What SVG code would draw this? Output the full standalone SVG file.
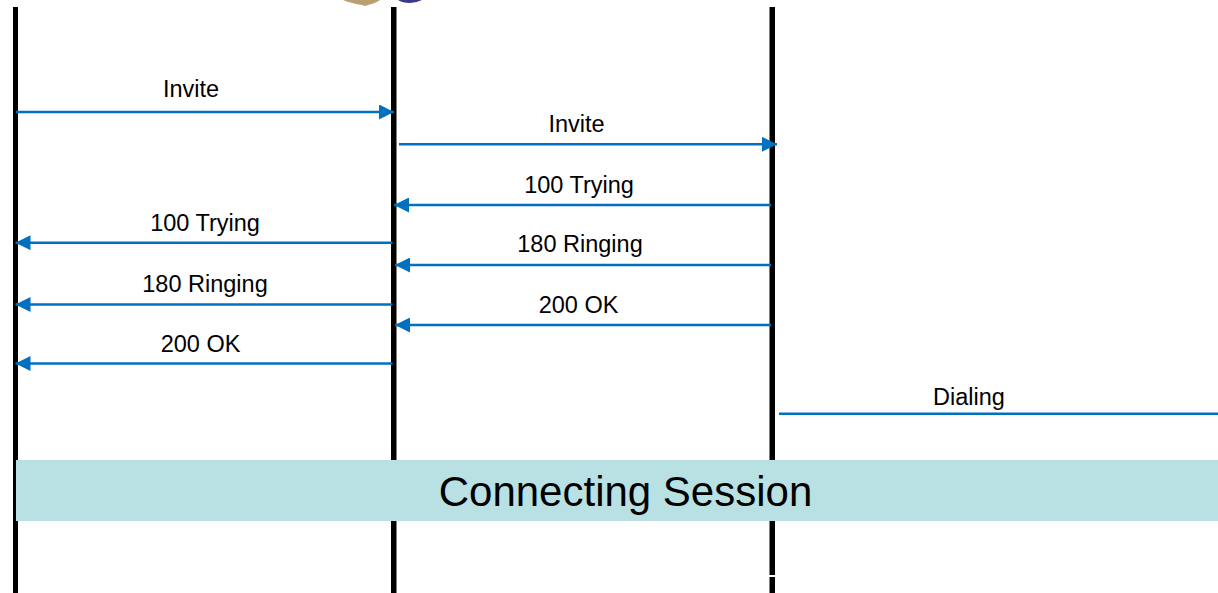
<svg xmlns="http://www.w3.org/2000/svg" width="1218" height="593" viewBox="0 0 1218 593">
  <style>
    .life { fill: #000000; }
    .msg { stroke: #0070C0; stroke-width: 2.6; fill: none; }
    .lbl { font-family: "Liberation Sans", Arial, sans-serif; font-size: 23.5px; fill: #000000; text-anchor: middle; }
    .big { font-family: "Liberation Sans", Arial, sans-serif; font-size: 42px; fill: #000000; text-anchor: middle; }
  </style>
  <defs>
    <marker id="arrow" viewBox="0 0 15 15" refX="15" refY="7.5" markerWidth="15" markerHeight="15" markerUnits="userSpaceOnUse" orient="auto">
      <path d="M0,0 L15,7.5 L0,15 Z" fill="#0070C0"/>
    </marker>
  </defs>
  <rect width="1218" height="593" fill="#FFFFFF"/>

  <!-- cropped picture fragments at the top -->
  <g id="top-fragments">
    <path d="M343,0 L380,0 Q376,3 368,5 L365,6 L362,5 Q350,3 343,0 Z" fill="#B8A070"/>
    <path d="M398,0 L422,0 Q416,3 410,3 Q402,3 398,0 Z" fill="#3A3A8A"/>
  </g>

  <!-- lifelines -->
  <g id="lifeline-left"><rect class="life" x="13" y="7" width="5" height="586"/></g>
  <g id="lifeline-middle"><rect class="life" x="391" y="7" width="5.5" height="586"/></g>
  <g id="lifeline-right">
    <rect class="life" x="769.5" y="7" width="5.5" height="586"/>
    <rect x="769" y="575" width="6.5" height="2" fill="#FFFFFF"/>
  </g>

  <!-- connectors -->
  <g id="connectors">
    <line class="msg" x1="16" y1="112" x2="394" y2="112" marker-end="url(#arrow)"/>
    <line class="msg" x1="399" y1="144.3" x2="777" y2="144.3" marker-end="url(#arrow)"/>
    <line class="msg" x1="771" y1="205" x2="394" y2="205" marker-end="url(#arrow)"/>
    <line class="msg" x1="392.5" y1="242.7" x2="15.5" y2="242.7" marker-end="url(#arrow)"/>
    <line class="msg" x1="771" y1="265" x2="395" y2="265" marker-end="url(#arrow)"/>
    <line class="msg" x1="392.5" y1="304.5" x2="15.5" y2="304.5" marker-end="url(#arrow)"/>
    <line class="msg" x1="771" y1="325" x2="395" y2="325" marker-end="url(#arrow)"/>
    <line class="msg" x1="392.5" y1="363.5" x2="15.5" y2="363.5" marker-end="url(#arrow)"/>
    <line class="msg" x1="779" y1="413.7" x2="1218" y2="413.7"/>
  </g>

  <!-- labels -->
  <g id="labels">
    <text class="lbl" x="191" y="97">Invite</text>
    <text class="lbl" x="576.5" y="132">Invite</text>
    <text class="lbl" x="579" y="193">100 Trying</text>
    <text class="lbl" x="205" y="230.5">100 Trying</text>
    <text class="lbl" x="580" y="252">180 Ringing</text>
    <text class="lbl" x="205" y="291.5">180 Ringing</text>
    <text class="lbl" x="578.5" y="312.5">200 OK</text>
    <text class="lbl" x="200.5" y="351.5">200 OK</text>
    <text class="lbl" x="969" y="405">Dialing</text>
  </g>

  <!-- session bar -->
  <g id="connecting-session">
    <rect x="16" y="460" width="1202" height="61" fill="#B9E0E3"/>
    <text class="big" x="625.5" y="506">Connecting Session</text>
  </g>
</svg>
